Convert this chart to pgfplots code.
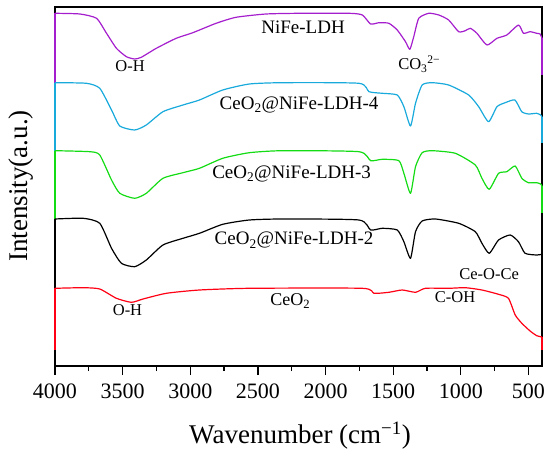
\documentclass[border=0pt]{standalone}
\usepackage{fontspec}
\setmainfont{Liberation Serif}
\usepackage{pgfplots}
\pgfplotsset{compat=1.18}
\definecolor{cpur}{RGB}{165,30,205}
\definecolor{ccya}{RGB}{25,170,220}
\definecolor{cgrn}{RGB}{20,220,20}
\definecolor{cred}{RGB}{255,0,20}
\newcommand{\fs}[1]{\fontsize{#1bp}{#1bp}\selectfont}
\begin{document}
\begin{tikzpicture}
\useasboundingbox (0,0) rectangle (550bp,456bp);
\begin{axis}[
  at={(55bp,90bp)}, anchor=south west,
  scale only axis, width=487bp, height=359bp,
  x dir=reverse, xmin=400, xmax=4000,
  ymin=-366, ymax=-7,
  xtick={500,1000,...,4000}, minor x tick num=1,
  xtick pos=bottom, ytick=\empty,
  tick align=outside,
  major tick length=9bp, minor tick length=5bp,
  axis line style={line width=1.3bp},
  every tick/.style={line width=1.2bp, black},
  /pgf/number format/assume math mode=true,
  /pgf/number format/set thousands separator={},
  xticklabel style={font=\fs{22}, yshift=-5bp},
  clip=false,
  every axis plot/.append style={line width=1.2bp, line join=round},
]
% end segments
\addplot[cpur] coordinates {(4000,-82.7)(4000,-13.3)};
\addplot[cpur] coordinates {(400,-38)(400,-75)};
\addplot[ccya] coordinates {(4000,-150.7)(4000,-82.7)};
\addplot[ccya] coordinates {(400,-117)(400,-143)};
\addplot[cgrn] coordinates {(4000,-219)(4000,-150.7)};
\addplot[cgrn] coordinates {(400,-186)(400,-213)};
\addplot[black] coordinates {(4000,-288.3)(4000,-219)};
\addplot[cred] coordinates {(4000,-350)(4000,-288.3)};
\addplot[cred] coordinates {(400,-337)(400,-350)};
% spectra
\addplot[cpur, smooth, tension=0.35] coordinates {(4000,-13.3)(3816,-14)(3693,-18.3)(3619,-33.3)(3546,-48.3)(3472,-56.7)(3411,-59)(3362,-57.3)(3251,-48.3)(3104,-38.3)(2981,-32.7)(2809,-23.3)(2662,-17.3)(2440,-14)(2195,-13.3)(1826,-13.3)(1728,-15)(1667,-24)(1605,-22.7)(1532,-23.3)(1470,-30)(1409,-41.7)(1377,-49.3)(1348,-36.7)(1311,-18.3)(1237,-13.3)(1163,-15)(1090,-20)(1016,-31.7)(967,-30.7)(930,-28.3)(881,-33.3)(807,-45)(733,-38.3)(660,-35)(574,-25)(537,-33.3)(488,-31.7)(439,-33.3)(414,-34)(400,-38)};
\addplot[ccya, smooth, tension=0.35] coordinates {(4000,-82.7)(3767,-83.3)(3669,-88.3)(3582,-110)(3521,-126)(3411,-130)(3325,-125)(3202,-111.7)(3054,-105)(2932,-100)(2760,-90)(2563,-84)(2318,-82.7)(1753,-83.3)(1679,-91.7)(1581,-93.3)(1470,-95)(1421,-106.7)(1372,-126)(1335,-103.3)(1286,-85)(1212,-82.7)(1090,-85)(942,-95)(868,-106.7)(795,-121.7)(733,-106.7)(672,-102.7)(600,-100)(550,-111.7)(500,-114)(439,-113.3)(410,-115)(400,-117)};
\addplot[cgrn, smooth, tension=0.35] coordinates {(4000,-150.7)(3742,-151.7)(3669,-155)(3582,-180)(3521,-193.3)(3411,-198.3)(3325,-193.3)(3202,-178.3)(3054,-172.7)(2932,-168.3)(2760,-158.3)(2563,-152.7)(2318,-150.7)(1753,-151.7)(1667,-160.7)(1581,-159.3)(1458,-160.7)(1421,-173.3)(1372,-193.3)(1335,-166.7)(1286,-152.7)(1212,-150.7)(1041,-153.3)(893,-165)(844,-178.3)(790,-189.3)(721,-173.3)(660,-171.7)(598,-166)(549,-178.3)(500,-182.7)(439,-182.7)(410,-184)(400,-186)};
\addplot[black, smooth, tension=0.35] coordinates {(4000,-219)(3791,-218.3)(3669,-223.3)(3582,-248.3)(3509,-263.3)(3411,-266.7)(3325,-260)(3202,-245)(3054,-238.3)(2932,-233.3)(2760,-224.3)(2563,-220)(2318,-219)(1753,-220)(1667,-230)(1581,-228.3)(1470,-230)(1421,-241.7)(1372,-258.3)(1335,-231.7)(1286,-221)(1188,-219)(1016,-223.3)(893,-231.7)(844,-243.3)(790,-253.3)(721,-240)(635,-235)(574,-241.7)(525,-253.3)(439,-255)(400,-254.3)};
\addplot[cred, smooth, tension=0.35] coordinates {(4000,-288.3)(3791,-287.7)(3669,-289)(3546,-298.3)(3435,-302.3)(3349,-299)(3177,-293.3)(2932,-290)(2563,-288.3)(1728,-288.3)(1642,-293.3)(1532,-292.3)(1433,-290)(1335,-292.3)(1262,-288.3)(1090,-288.3)(967,-287.7)(844,-290)(721,-294.3)(648,-298.3)(598,-315)(549,-323.3)(488,-331)(439,-335.7)(400,-337)};
\node[anchor=base, font=\fs{19}] at (axis cs:2166,-33.3) {NiFe-LDH};
\node[anchor=base, font=\fs{16.5}] at (axis cs:3445,-71.7) {O-H};
\node[anchor=base west, font=\fs{16.5}, inner sep=0pt] at (axis cs:1464,-70) {CO\textsubscript{3}\textsuperscript{2−}};
\node[anchor=base, font=\fs{19}] at (axis cs:2196,-109.3) {CeO\textsubscript{2}@NiFe-LDH-4};
\node[anchor=base, font=\fs{19}] at (axis cs:2251,-178.3) {CeO\textsubscript{2}@NiFe-LDH-3};
\node[anchor=base, font=\fs{19}] at (axis cs:2233,-245) {CeO\textsubscript{2}@NiFe-LDH-2};
\node[anchor=base, font=\fs{16.5}] at (axis cs:791,-279.3) {Ce-O-Ce};
\node[anchor=base, font=\fs{16.5}] at (axis cs:3464,-315.7) {O-H};
\node[anchor=base west, font=\fs{18}, inner sep=0pt] at (axis cs:2410,-305.7) {CeO\textsubscript{2}};
\node[anchor=base, font=\fs{16.5}] at (axis cs:1042,-302.7) {C-OH};
\end{axis}
\node[anchor=base, font=\fs{27}] at (300bp,13bp) {Wavenumber (cm\textsuperscript{−1})};
\node[rotate=90, font=\fs{27}] at (21bp,270bp) {Intensity(a.u.)};
\end{tikzpicture}
\end{document}
